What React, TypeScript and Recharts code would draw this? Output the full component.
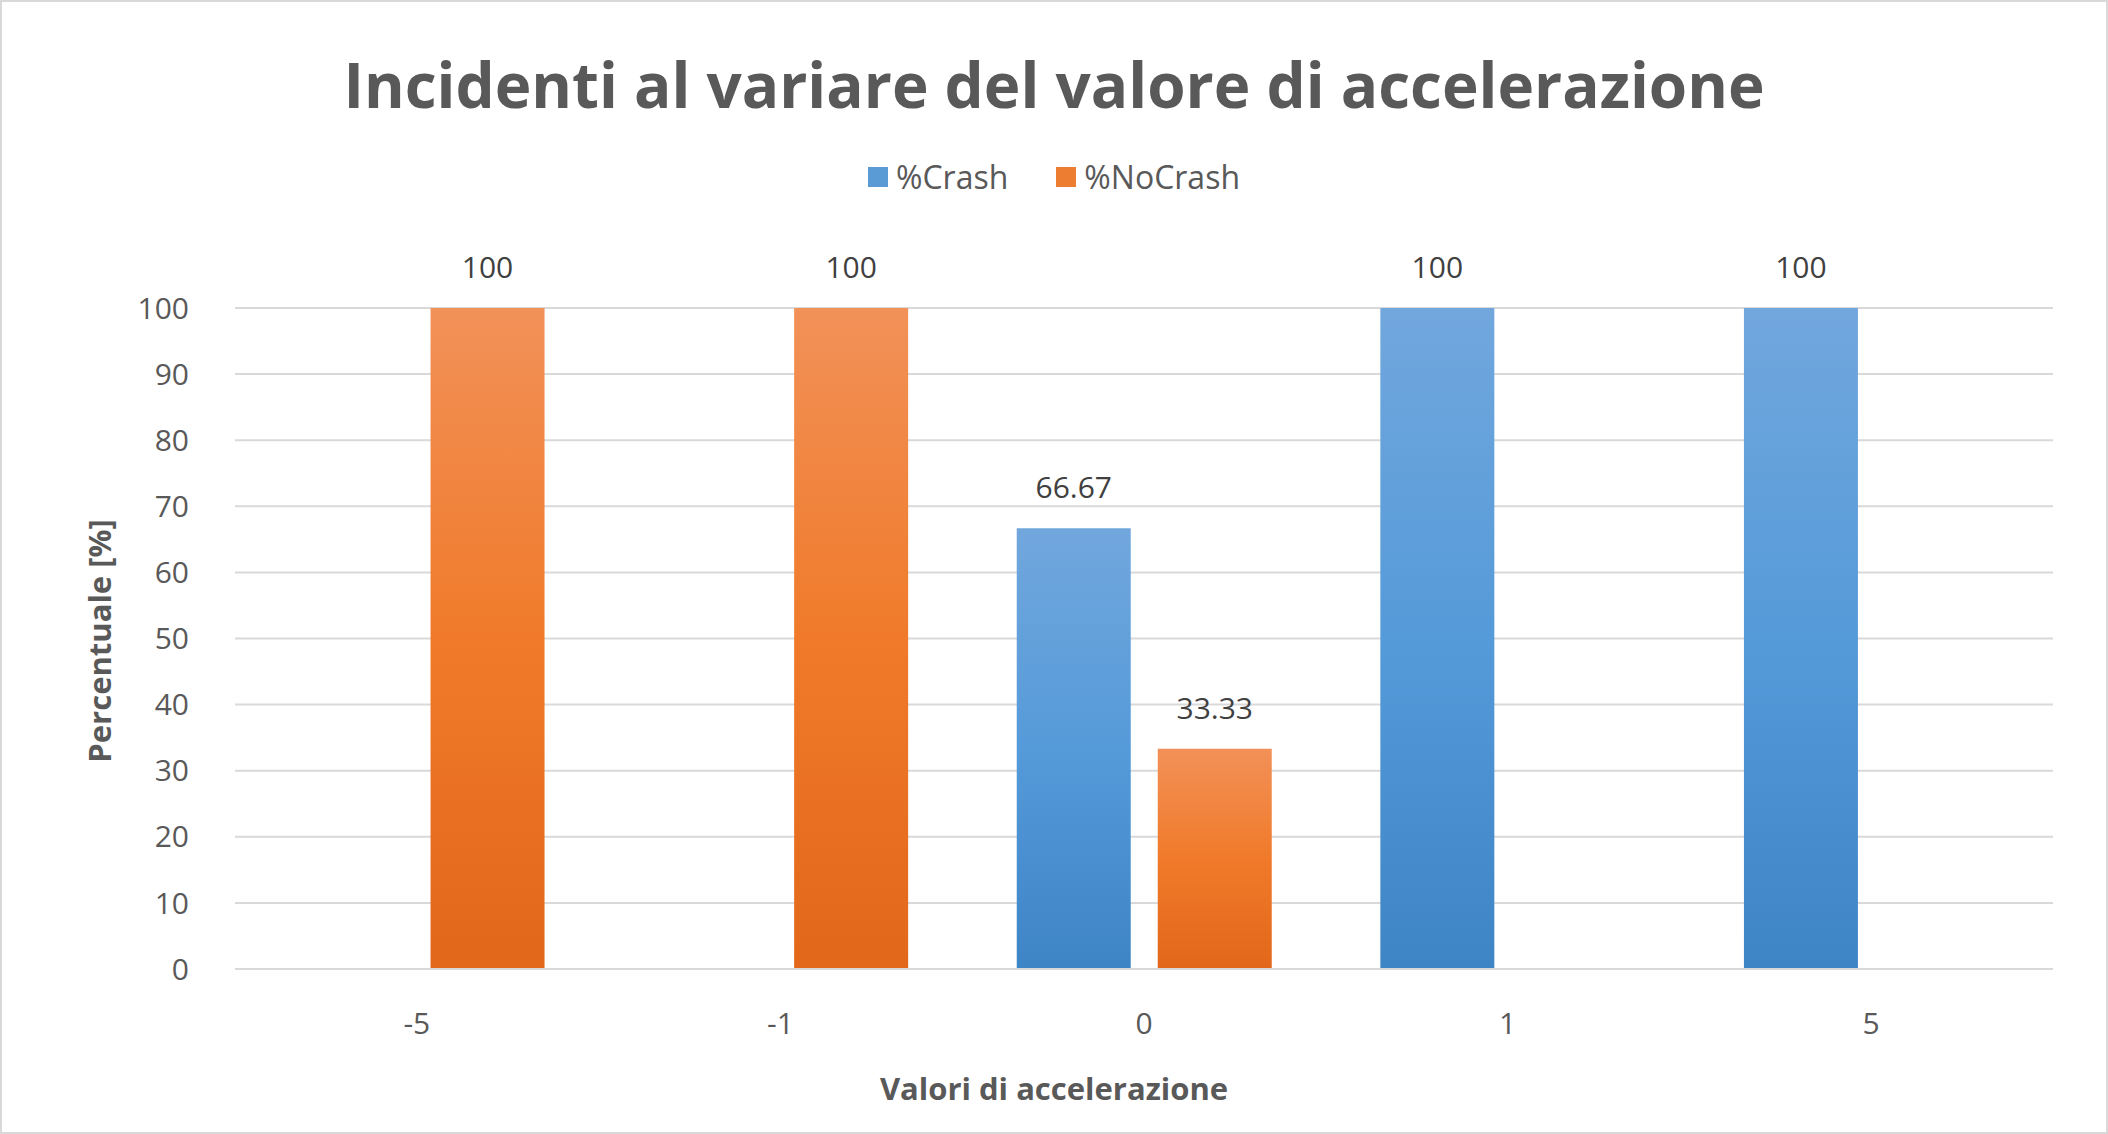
import React from 'react';
import { BarChart, Bar, XAxis, YAxis, CartesianGrid, LabelList } from 'recharts';

const categories = ['-5', '-1', '0', '1', '5'];
const crash = [0, 0, 66.67, 100, 100];
const noCrash = [100, 100, 33.33, 0, 0];
const yTicks = [0, 10, 20, 30, 40, 50, 60, 70, 80, 90, 100];

const data = categories.map((c, i) => ({ cat: c, crash: crash[i], noCrash: noCrash[i] }));
const font = '"Open Sans", "DejaVu Sans", sans-serif';
const fmt = (v: number) => (Number.isInteger(v) ? String(v) : v.toFixed(2));

export default function App() {
  return (
    <div style={{ position: 'absolute', left: 0, top: 0, width: 2108, height: 1134, background: '#fff', fontFamily: font, boxSizing: 'border-box', border: '2px solid #D9D9D9' }}>
      <div style={{ position: 'absolute', left: 0, right: 0, top: 40, textAlign: 'center', fontSize: 62, fontWeight: 'bold', color: '#595959' }}>
        Incidenti al variare del valore di accelerazione
      </div>
      <div style={{ position: 'absolute', left: 0, right: 0, top: 153, display: 'flex', justifyContent: 'center', gap: 48, fontSize: 32, color: '#595959' }}>
        <span style={{ display: 'flex', alignItems: 'center', gap: 8 }}><span style={{ width: 20, height: 20, background: '#5B9BD5', display: 'inline-block' }} />%Crash</span>
        <span style={{ display: 'flex', alignItems: 'center', gap: 8 }}><span style={{ width: 20, height: 20, background: '#ED7D31', display: 'inline-block' }} />%NoCrash</span>
      </div>
      <div style={{ position: 'absolute', left: 0, right: 0, top: 1065, textAlign: 'center', fontSize: 31, fontWeight: 'bold', color: '#595959' }}>
        Valori di accelerazione
      </div>
      <div style={{ position: 'absolute', left: 97, top: 639, transform: 'translate(-50%,-50%) rotate(-90deg)', whiteSpace: 'nowrap', fontSize: 31, fontWeight: 'bold', color: '#595959' }}>
        Percentuale [%]
      </div>
      <div style={{ position: 'absolute', left: -2, top: -2 }}>
        <BarChart width={2108} height={1134} data={data} margin={{ top: 308, right: 55, bottom: 0, left: 0 }} barCategoryGap="15%" barGap={27}>
          <defs>
            <linearGradient id="gBlue" x1="0" y1="0" x2="0" y2="1">
              <stop offset="0%" stopColor="#71A7DD" />
              <stop offset="50%" stopColor="#559AD9" />
              <stop offset="100%" stopColor="#3E85C6" />
            </linearGradient>
            <linearGradient id="gOrange" x1="0" y1="0" x2="0" y2="1">
              <stop offset="0%" stopColor="#F29158" />
              <stop offset="50%" stopColor="#F07A2A" />
              <stop offset="100%" stopColor="#E2671A" />
            </linearGradient>
          </defs>
          <CartesianGrid vertical={false} stroke="#D9D9D9" strokeWidth={2} />
          <XAxis dataKey="cat" height={165} tickLine={false} axisLine={{ stroke: '#D9D9D9', strokeWidth: 2 }} tickMargin={38} tick={{ fontSize: 30, fill: '#595959', fontFamily: font }} />
          <YAxis width={235} domain={[0, 100]} ticks={yTicks} tickLine={false} axisLine={false} tickMargin={40} tick={{ fontSize: 30, fill: '#595959', fontFamily: font }} />
          <Bar dataKey="crash" fill="url(#gBlue)" isAnimationActive={false}>
            <LabelList dataKey="crash" position="top" offset={30} formatter={fmt} style={{ fontSize: 30, fill: '#404040', fontFamily: font }} />
          </Bar>
          <Bar dataKey="noCrash" fill="url(#gOrange)" isAnimationActive={false}>
            <LabelList dataKey="noCrash" position="top" offset={30} formatter={fmt} style={{ fontSize: 30, fill: '#404040', fontFamily: font }} />
          </Bar>
        </BarChart>
      </div>
    </div>
  );
}
